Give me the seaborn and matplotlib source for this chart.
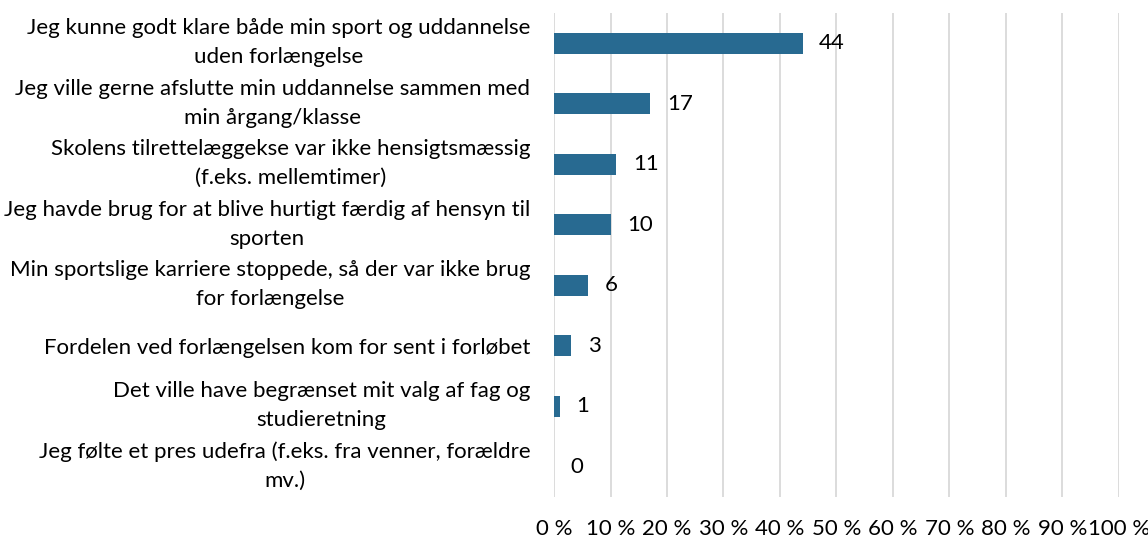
import matplotlib
matplotlib.use("Agg")
import matplotlib.pyplot as plt
import matplotlib.transforms as mtransforms
import numpy as np
import pandas as pd
import seaborn as sns
from matplotlib.ticker import FuncFormatter

categories = [
    "Jeg kunne godt klare både min sport og uddannelse\nuden forlængelse",
    "Jeg ville gerne afslutte min uddannelse sammen med\nmin årgang/klasse",
    "Skolens tilrettelæggekse var ikke hensigtsmæssig\n(f.eks. mellemtimer)",
    "Jeg havde brug for at blive hurtigt færdig af hensyn til\nsporten",
    "Min sportslige karriere stoppede, så der var ikke brug\nfor forlængelse",
    "Fordelen ved forlængelsen kom for sent i forløbet",
    "Det ville have begrænset mit valg af fag og\nstudieretning",
    "Jeg følte et pres udefra (f.eks. fra venner, forældre\nmv.)",
]
values = [44, 17, 11, 10, 6, 3, 1, 0]
x_ticks = list(range(0, 101, 10))

BAR_COLOR = "#286A91"
FS = 16


def main() -> None:
    sns.set_theme(style="white")
    plt.rcParams["font.family"] = ["Lato", "DejaVu Sans"]

    df = pd.DataFrame({"label": categories, "value": values})

    fig = plt.figure(figsize=(11.48, 5.38), dpi=100)
    ax = fig.add_axes([0.4826, 0.076, 0.492, 0.90])

    sns.barplot(data=df, x="value", y="label", color=BAR_COLOR, width=0.35,
                saturation=1, linewidth=0, ax=ax, orient="h")

    ax.set_xlim(0, 100)
    ax.set_xticks(x_ticks)
    ax.xaxis.set_major_formatter(FuncFormatter(lambda v, _: f"{int(v)} %"))
    ax.grid(axis="x", color="#D9D9D9", linewidth=1.3)
    ax.set_axisbelow(True)
    for s in ax.spines.values():
        s.set_visible(False)
    ax.tick_params(axis="both", length=0)
    ax.tick_params(axis="x", labelsize=FS, pad=16)
    ax.tick_params(axis="y", labelsize=FS, pad=17)
    ax.set_xlabel("")
    ax.set_ylabel("")
    # two-line labels sit a little above the bar centre in the original
    shift = mtransforms.ScaledTranslation(0, 5 / 72, fig.dpi_scale_trans)
    for lab in ax.get_yticklabels():
        lab.set_multialignment("center")
        lab.set_linespacing(1.55)
        lab.set_color("black")
        if "\n" in lab.get_text():
            lab.set_transform(lab.get_transform() + shift)
    for lab in ax.get_xticklabels():
        lab.set_color("black")

    for i, v in enumerate(values):
        ax.annotate(str(v), xy=(v, i), xytext=(12, 0), textcoords="offset points",
                    va="center", ha="left", fontsize=FS, color="black")

    fig.savefig("out.png", dpi=100)
    plt.close(fig)


if __name__ == "__main__":
    main()
